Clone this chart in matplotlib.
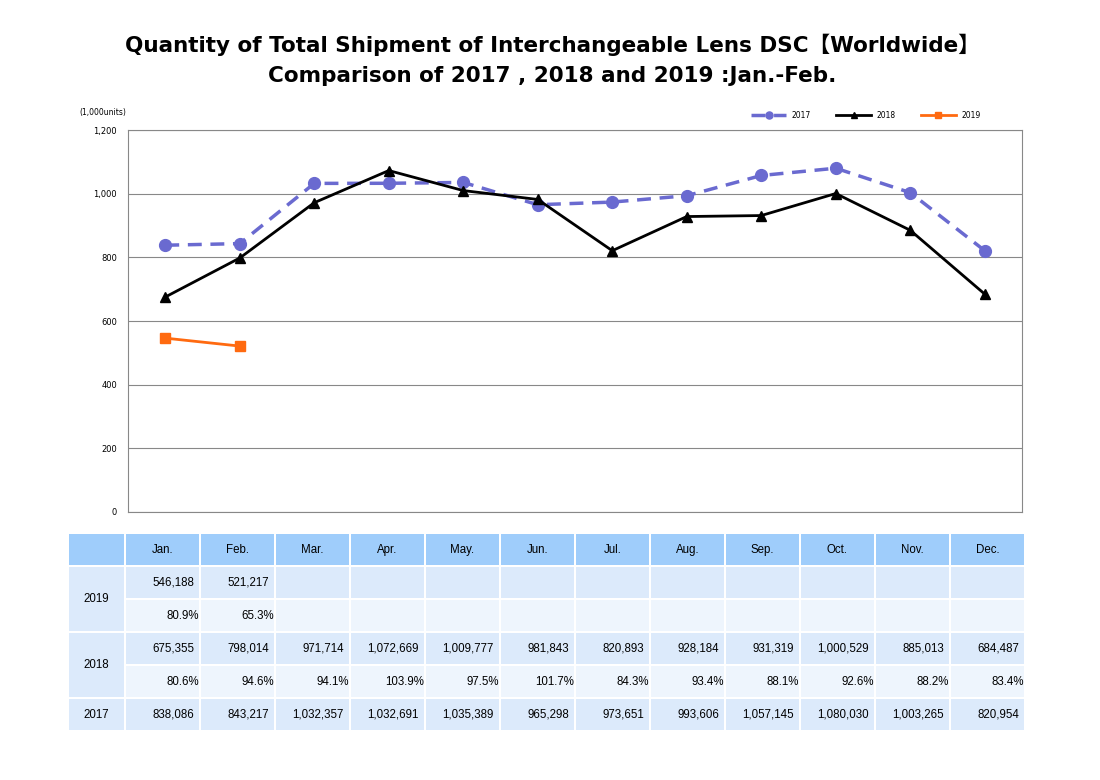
import numpy as np
import matplotlib
matplotlib.use('Agg')
import matplotlib.pyplot as plt
from matplotlib.patches import Rectangle

plt.rcParams['font.family'] = ['DejaVu Sans', 'Noto Sans CJK JP']

months = ['Jan.', 'Feb.', 'Mar.', 'Apr.', 'May.', 'Jun.', 'Jul.', 'Aug.', 'Sep.', 'Oct.', 'Nov.', 'Dec.']
ship_2017 = [838086, 843217, 1032357, 1032691, 1035389, 965298, 973651, 993606, 1057145, 1080030, 1003265, 820954]
ship_2018 = [675355, 798014, 971714, 1072669, 1009777, 981843, 820893, 928184, 931319, 1000529, 885013, 684487]
ship_2019 = [546188, 521217]
pct_2018 = [80.6, 94.6, 94.1, 103.9, 97.5, 101.7, 84.3, 93.4, 88.1, 92.6, 88.2, 83.4]
pct_2019 = [80.9, 65.3]

c2017 = '#6a6ad0'
c2018 = 'black'
c2019 = '#ff6a10'

fig = plt.figure(figsize=(11, 7.8), dpi=100)

fig.text(0.502, 0.942, 'Quantity of Total Shipment of Interchangeable Lens DSC\u3010Worldwide\u3011',
         ha='center', va='center', fontsize=15.5, fontweight='bold')
fig.text(0.502, 0.903, 'Comparison of 2017 , 2018 and 2019 :Jan.-Feb.',
         ha='center', va='center', fontsize=15.5, fontweight='bold')

ax = fig.add_axes([0.1164, 0.3436, 0.8127, 0.4897])
x = np.arange(12)
ax.plot(x, np.array(ship_2017) / 1000, color=c2017, lw=2.5, ls=(0, (4, 2.5)),
        marker='o', ms=8.5, label='2017')
ax.plot(x, np.array(ship_2018) / 1000, color=c2018, lw=2, marker='^', ms=7.5, label='2018')
ax.plot(x[:len(ship_2019)], np.array(ship_2019) / 1000, color=c2019, lw=2, marker='s', ms=7,
        label='2019')

ax.set_xlim(-0.5, 11.5)
ax.set_ylim(0, 1200)
ax.set_yticks(range(0, 1201, 200))
ax.set_yticklabels([f'{v:,}' for v in range(0, 1201, 200)], fontsize=6)
ax.set_xticks([])
ax.tick_params(axis='y', length=0, pad=8)
ax.yaxis.grid(True, color='#888888', lw=0.8)
ax.set_axisbelow(True)
for s in ax.spines.values():
    s.set_color('#888888')
ax.text(-0.054, 1.045, '(1,000units)', transform=ax.transAxes, fontsize=5.5, ha='left', va='center')
ax.legend(loc='lower right', bbox_to_anchor=(0.96, 1.012), ncol=3, frameon=False, fontsize=5.5,
          handlelength=4.5, columnspacing=3.3, markerscale=0.6, borderaxespad=0.3)

# table
tax = fig.add_axes([0.0618, 0.0628, 0.87, 0.2538])
col_w = [57] + [75] * 12
row_h = 33
edges = np.concatenate([[0], np.cumsum(col_w)])
tax.set_xlim(0, edges[-1])
tax.set_ylim(6 * row_h, 0)
tax.axis('off')

hdr_c = '#9fcdfb'
val_c = '#dceafb'
pct_c = '#eef5fd'
gap = 1.2
tf = 'Liberation Sans'
fs = 8.3


def cell(c, r0, r1, color):
    tax.add_patch(Rectangle((edges[c] + gap, r0 * row_h + gap), col_w[c] - 2 * gap,
                            (r1 - r0) * row_h - 2 * gap, facecolor=color, edgecolor='none'))


cell(0, 0, 1, hdr_c)
for j, m in enumerate(months):
    cell(j + 1, 0, 1, hdr_c)
    tax.text((edges[j + 1] + edges[j + 2]) / 2, 0.5 * row_h, m, ha='center', va='center',
             fontsize=fs, family=tf)

rows = [
    ('2019', [f'{v:,}' for v in ship_2019], [f'{v:.1f}%' for v in pct_2019]),
    ('2018', [f'{v:,}' for v in ship_2018], [f'{v:.1f}%' for v in pct_2018]),
]
r = 1
for year, vals, pcts in rows:
    cell(0, r, r + 2, val_c)
    tax.text(col_w[0] / 2, (r + 1) * row_h, year, ha='center', va='center', fontsize=fs, family=tf)
    for j in range(12):
        cell(j + 1, r, r + 1, val_c)
        cell(j + 1, r + 1, r + 2, pct_c)
        if j < len(vals):
            tax.text(edges[j + 2] - 6, (r + 0.5) * row_h, vals[j], ha='right', va='center',
                     fontsize=fs, family=tf)
            tax.text(edges[j + 2] - 1, (r + 1.5) * row_h, pcts[j], ha='right', va='center',
                     fontsize=fs, family=tf)
    r += 2

cell(0, r, r + 1, val_c)
tax.text(col_w[0] / 2, (r + 0.5) * row_h, '2017', ha='center', va='center', fontsize=fs, family=tf)
for j, v in enumerate(ship_2017):
    cell(j + 1, r, r + 1, val_c)
    tax.text(edges[j + 2] - 6, (r + 0.5) * row_h, f'{v:,}', ha='right', va='center',
             fontsize=fs, family=tf)

fig.savefig('out.png', dpi=100)
